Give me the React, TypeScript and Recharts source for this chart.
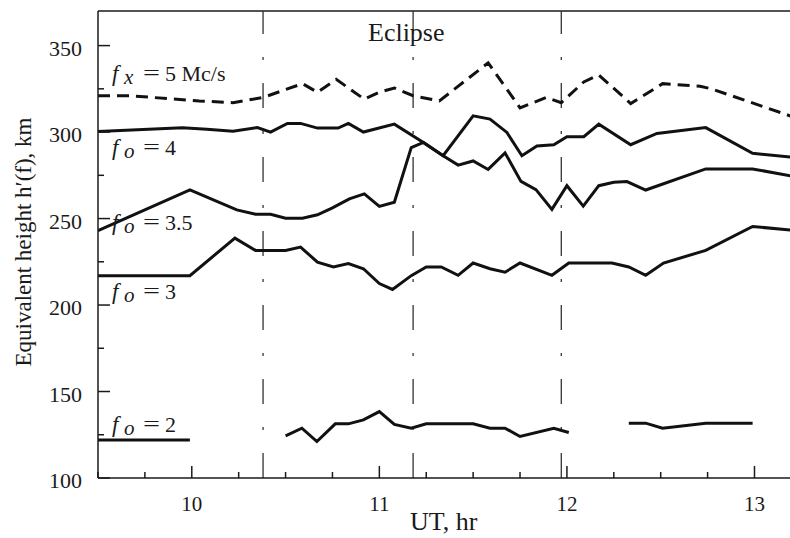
import React from 'react';
import { LineChart, Line, XAxis, YAxis, ReferenceLine } from 'recharts';

// UT (hours) and virtual height h'(f) in km
const fxTime = [9.5, 9.67, 10.04, 10.22, 10.38, 10.59, 10.67, 10.77, 10.92, 11.0, 11.08, 11.18, 11.32, 11.58, 11.75, 11.89, 11.97, 12.09, 12.17, 12.34, 12.51, 12.71, 12.77, 13.2];
const fxHeight = [321, 321, 318, 317, 320, 328, 323, 330.5, 319, 323, 325.5, 321, 318, 340, 314, 320, 317, 329, 333, 316.5, 328, 326.5, 325, 309];

const fo4Time = [9.5, 9.95, 10.08, 10.22, 10.35, 10.42, 10.51, 10.58, 10.67, 10.78, 10.835, 10.915, 11.08, 11.235, 11.34, 11.5, 11.59, 11.68, 11.76, 11.84, 11.93, 12.0, 12.09, 12.17, 12.34, 12.48, 12.74, 12.99, 13.2];
const fo4Height = [300.3, 302.5, 301.7, 300.5, 302.6, 300, 305, 305, 302.3, 302.3, 305, 300, 304.6, 294, 286.3, 309.4, 307.5, 299.8, 286.3, 292, 292.7, 297.3, 297.3, 304.6, 292.7, 299.2, 302.6, 287.7, 285.5];

const fo35Time = [9.5, 9.99, 10.24, 10.34, 10.42, 10.5, 10.59, 10.67, 10.75, 10.84, 10.92, 11.0, 11.08, 11.17, 11.235, 11.34, 11.42, 11.5, 11.58, 11.67, 11.755, 11.835, 11.92, 12.0, 12.087, 12.17, 12.25, 12.32, 12.42, 12.74, 12.99, 13.2];
const fo35Height = [243, 266.6, 255, 252.5, 252.5, 250.2, 250.2, 252.2, 256.2, 261.4, 264.3, 257, 259.4, 291, 294, 286.3, 280.9, 283.3, 278.4, 288, 271.5, 266.7, 255.3, 269, 257.2, 269, 271, 271.4, 266.5, 278.7, 278.7, 274.5];

const fo3Time = [9.5, 9.99, 10.23, 10.34, 10.5, 10.58, 10.67, 10.755, 10.835, 10.915, 11.0, 11.07, 11.17, 11.25, 11.33, 11.42, 11.5, 11.59, 11.67, 11.75, 11.92, 12.01, 12.24, 12.33, 12.42, 12.515, 12.74, 12.99, 13.2];
const fo3Height = [217, 217, 238.7, 231.6, 231.6, 233.5, 224.8, 222, 224, 221, 212.4, 209, 217, 222, 222, 217.2, 224.3, 221, 219, 224.3, 217.2, 224.3, 224.3, 222, 217.2, 224.3, 231.6, 245.4, 243.3];

// null = no reflection recorded (gap in trace)
const fo2Time = [9.5, 9.99, 10.25, 10.5, 10.587, 10.667, 10.765, 10.835, 10.915, 11.0, 11.08, 11.17, 11.25, 11.5, 11.59, 11.67, 11.75, 11.93, 12.01, 12.2, 12.33, 12.42, 12.51, 12.74, 12.99];
const fo2Height = [122, 122, null, 124.4, 128.8, 121.1, 131.3, 131.3, 133.6, 138.4, 131, 128.8, 131.3, 131.3, 128.8, 128.8, 124, 128.8, 126.3, null, 131.7, 131.7, 128.8, 131.7, 131.7];

const eclipseMarks = [10.38, 11.18, 11.97];
const xTicks = [9.5, 9.75, 10, 10.25, 10.5, 10.75, 11, 11.25, 11.5, 11.75, 12, 12.25, 12.5, 12.75, 13];
const yTicks = [100, 125, 150, 175, 200, 225, 250, 275, 300, 325, 350];

const zip = (t: number[], h: (number | null)[]) => t.map((x, i) => ({ t: x, h: h[i] }));

const FONT = '"Liberation Serif", "Times New Roman", serif';
const INK = '#1a1a1a';
const W = 800;
const H = 538;
const PLOT_LEFT = 98;
const PLOT_TOP = 11;
const PLOT_BOTTOM = 478;

const renderXTick = (p: any) => {
  const major = Number.isInteger(p.payload.value);
  const len = major ? 12 : 6;
  return (
    <g key={`xt-${p.payload.value}`}>
      <path d={`M${p.x},${PLOT_BOTTOM}V${PLOT_BOTTOM - len}`} stroke={INK} strokeWidth={1.5} fill="none" />
      {major && (
        <text x={p.x} y={511} textAnchor="middle" fontFamily={FONT} fontSize={21} fill={INK}>
          {p.payload.value}
        </text>
      )}
    </g>
  );
};

const renderYTick = (p: any) => {
  const major = p.payload.value % 50 === 0;
  const len = major ? 12 : 6;
  return (
    <g key={`yt-${p.payload.value}`}>
      <path d={`M${PLOT_LEFT},${p.y}H${PLOT_LEFT + len}`} stroke={INK} strokeWidth={1.5} fill="none" />
      {major && (
        <text x={82} y={p.y + 10} textAnchor="end" fontFamily={FONT} fontSize={22} fill={INK}>
          {p.payload.value}
        </text>
      )}
    </g>
  );
};

const FreqLabel = ({ x, y, sub, text }: { x: number; y: number; sub: string; text: string }) => (
  <g fontFamily={FONT} fill={INK}>
    <text x={x} y={y} fontSize={23} fontStyle="italic">f</text>
    <text x={x + 12} y={y + 3} fontSize={21} fontStyle="italic">{sub}</text>
    <text x={x + 31} y={y - 1} fontSize={22} textLength={17} lengthAdjust="spacingAndGlyphs">=</text>
    <text x={x + 53} y={y} fontSize={22}>{text}</text>
  </g>
);

export default function App() {
  const lineStyle = { stroke: '#111', strokeWidth: 3, dot: false, type: 'linear' as const, isAnimationActive: false };
  return (
    <div style={{ position: 'absolute', left: 0, top: 0, width: 790, height: H, overflow: 'hidden', background: '#fff' }}>
      <LineChart width={W} height={H} margin={{ top: PLOT_TOP, right: W - PLOT_LEFT - 694, bottom: 0, left: 0 }}>
        <XAxis
          dataKey="t"
          type="number"
          domain={[9.5, 13.2]}
          allowDataOverflow
          ticks={xTicks}
          interval={0}
          height={H - PLOT_BOTTOM}
          axisLine={{ stroke: INK, strokeWidth: 1.5 }}
          tickLine={false}
          tick={renderXTick}
        />
        <YAxis
          type="number"
          domain={[100, 370]}
          allowDataOverflow
          ticks={yTicks}
          interval={0}
          width={PLOT_LEFT}
          axisLine={{ stroke: INK, strokeWidth: 1.5 }}
          tickLine={false}
          tick={renderYTick}
        />
        <ReferenceLine y={370} stroke={INK} strokeWidth={1.5} />
        {eclipseMarks.map((m) => (
          <ReferenceLine key={m} x={m} stroke="#333" strokeWidth={1.3} strokeDasharray="25 23 3 23" />
        ))}
        <Line data={zip(fxTime, fxHeight)} dataKey="h" {...lineStyle} strokeDasharray="12 7" />
        <Line data={zip(fo4Time, fo4Height)} dataKey="h" {...lineStyle} />
        <Line data={zip(fo35Time, fo35Height)} dataKey="h" {...lineStyle} />
        <Line data={zip(fo3Time, fo3Height)} dataKey="h" {...lineStyle} />
        <Line data={zip(fo2Time, fo2Height)} dataKey="h" {...lineStyle} connectNulls={false} />
      </LineChart>

      {/* annotations */}
      <svg width={790} height={H} style={{ position: 'absolute', left: 0, top: 0, pointerEvents: 'none' }}>
        <text x={368} y={41} fontFamily={FONT} fontSize={26} fill={INK}>Eclipse</text>
        <FreqLabel x={112} y={81} sub="x" text="5 Mc/s" />
        <FreqLabel x={112} y={155} sub="o" text="4" />
        <FreqLabel x={112} y={230} sub="o" text="3.5" />
        <FreqLabel x={112} y={299} sub="o" text="3" />
        <FreqLabel x={112} y={432} sub="o" text="2" />
        <text x={410} y={530} fontFamily={FONT} fontSize={26} fill={INK}>UT, hr</text>
        <text
          transform="translate(31,242) rotate(-90)"
          textAnchor="middle"
          fontFamily={FONT}
          fontSize={23}
          fill={INK}
        >
          Equivalent height h′(f), km
        </text>
      </svg>
    </div>
  );
}
